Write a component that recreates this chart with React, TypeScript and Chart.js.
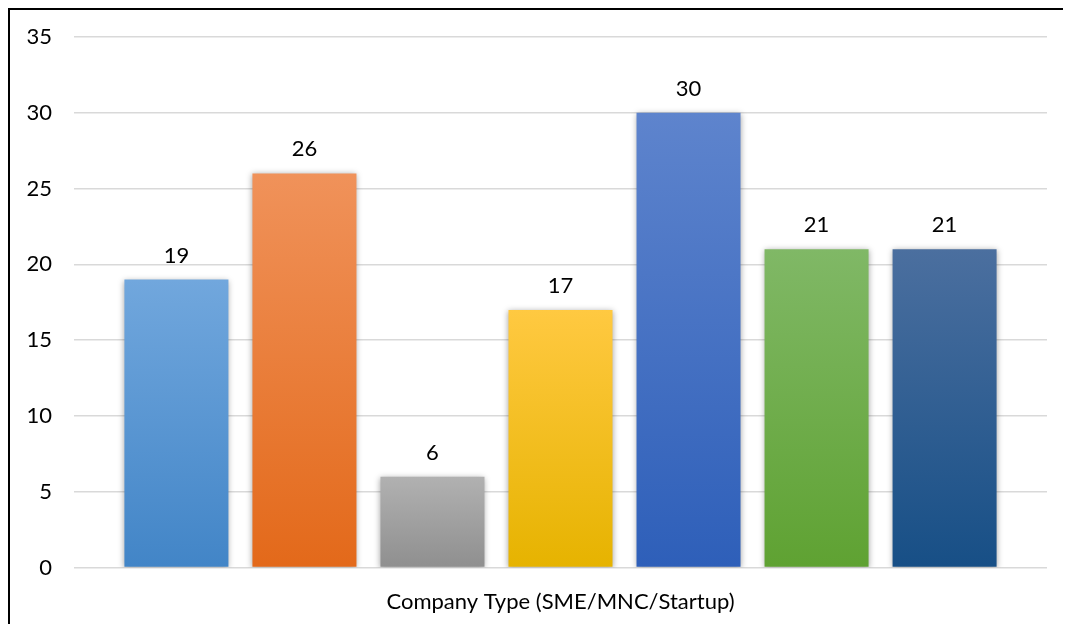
import React, { useEffect, useRef } from "react";
import { Chart, registerables } from "chart.js";

Chart.register(...registerables);

const categories = ["Type 1", "Type 2", "Type 3", "Type 4", "Type 5", "Type 6", "Type 7"];
const values = [19, 26, 6, 17, 30, 21, 21];
const topColors = ["#71a7dd", "#f0925a", "#b1b1b1", "#ffc941", "#5e84cd", "#80b866", "#4b6f9f"];
const bottomColors = ["#4285c7", "#e3691a", "#8f8f8f", "#e6b300", "#2e5fb9", "#5fa232", "#174f86"];
const yTicks = [0, 5, 10, 15, 20, 25, 30, 35];
const xTitle = "Company Type (SME/MNC/Startup)";

const FONT = "Lato, 'Noto Sans', sans-serif";

const shadowPlugin = {
  id: "barShadow",
  beforeDatasetsDraw(chart: any) {
    const ctx = chart.ctx;
    ctx.save();
    ctx.shadowColor = "rgba(0,0,0,0.35)";
    ctx.shadowBlur = 6;
    ctx.shadowOffsetX = 0;
    ctx.shadowOffsetY = 1;
  },
  afterDatasetsDraw(chart: any) {
    chart.ctx.restore();
  },
};

const labelPlugin = {
  id: "valueLabels",
  afterDatasetsDraw(chart: any) {
    const ctx = chart.ctx;
    const meta = chart.getDatasetMeta(0);
    ctx.save();
    ctx.font = `22px ${FONT}`;
    ctx.fillStyle = "#000";
    ctx.textAlign = "center";
    ctx.textBaseline = "alphabetic";
    meta.data.forEach((bar: any, i: number) => {
      ctx.fillText(String(values[i]), bar.x, bar.y - 17);
    });
    ctx.restore();
  },
};

export default function App() {
  const ref = useRef<HTMLCanvasElement>(null);
  useEffect(() => {
    if (!ref.current) return;
    const chart = new Chart(ref.current, {
      type: "bar",
      data: {
        labels: categories,
        datasets: [
          {
            data: values.map((v, i) => ({ x: i, y: v })) as any,
            backgroundColor: (c: any) => {
              const i = c.dataIndex;
              const chartObj = c.chart;
              const area = chartObj.chartArea;
              if (!area || i === undefined) return topColors[i ?? 0];
              const yScale = chartObj.scales.y;
              const top = yScale.getPixelForValue(values[i]);
              const bottom = yScale.getPixelForValue(0);
              const g = chartObj.ctx.createLinearGradient(0, top, 0, bottom);
              g.addColorStop(0, topColors[i]);
              g.addColorStop(1, bottomColors[i]);
              return g;
            },
            borderWidth: 0,
            barPercentage: 0.8125,
            categoryPercentage: 1,
          },
        ],
      },
      options: {
        animation: false,
        responsive: false,
        maintainAspectRatio: false,
        layout: { padding: { left: 17, right: 22, top: 27, bottom: 9 } },
        plugins: { legend: { display: false }, tooltip: { enabled: false } },
        scales: {
          x: {
            type: "linear",
            offset: false,
            min: -0.8,
            max: 6.8,
            afterBuildTicks: (s: any) => {
              s.ticks = categories.map((_, i) => ({ value: i }));
            },
            ticks: { display: false },
            grid: { display: false, drawTicks: false },
            border: { display: false },
            title: {
              display: true,
              text: xTitle,
              color: "#000",
              font: { family: FONT, size: 22 },
              padding: { top: 21, bottom: 0 },
            },
          },
          y: {
            min: 0,
            max: 35,
            afterBuildTicks: (s: any) => {
              s.ticks = yTicks.map((v) => ({ value: v }));
            },
            afterFit: (s: any) => {
              s.width = 47;
              s.paddingTop = 0;
              s.paddingBottom = 0;
            },
            ticks: {
              color: "#000",
              font: { family: FONT, size: 22 },
              padding: 22,
            },
            grid: { color: "#d9d9d9", lineWidth: 1.5, drawTicks: false },
            border: { display: false },
          },
        },
      },
      plugins: [shadowPlugin, labelPlugin],
    });
    return () => chart.destroy();
  }, []);

  return (
    <div
      style={{
        width: 1061,
        height: 616,
        boxSizing: "border-box",
        borderTop: "2px solid #000",
        borderLeft: "2px solid #000",
        background: "#fff",
      }}
    >
      <canvas ref={ref} width={1059} height={614} style={{ display: "block" }} />
    </div>
  );
}
